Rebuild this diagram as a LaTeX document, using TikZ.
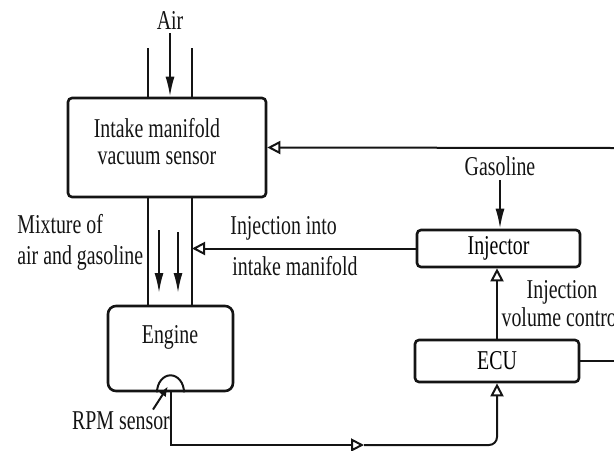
\documentclass[tikz,border=0pt]{standalone}
\usepackage{fontspec}
\setmainfont{Liberation Serif}[FakeStretch=0.73]
\usepackage{xcolor}
\usepackage{tikz}
\usetikzlibrary{arrows.meta,calc}
\definecolor{InkBlack}{HTML}{141414}
\tikzset{
  block/.style={
    draw=InkBlack,
    line width=1.3pt,
    rounded corners=2pt,
    align=center,
    inner sep=0pt,
    font=\fontsize{13.6}{13}\selectfont
  },
  engineblock/.style={block,rounded corners=4pt},
  lbl/.style={font=\fontsize{13.6}{14}\selectfont,text=InkBlack,inner sep=2pt},
  wall/.style={draw=InkBlack,line width=1pt},
  fillarrow/.style={-{Latex[length=10pt,width=4.5pt]},draw=InkBlack,line width=1pt},
  smallarrow/.style={-{Latex[length=5pt,width=4pt]},draw=InkBlack,line width=1pt},
  openarrow/.style={-{Triangle[open,length=6.5pt,width=6.5pt]},draw=InkBlack,line width=1pt},
  signal/.style={draw=InkBlack,line width=1pt}
}

\begin{document}
\begin{tikzpicture}[x=0.5pt,y=-0.5pt]
  \useasboundingbox (0,0) rectangle (614,450);
  \node[block,minimum width=99pt,minimum height=49.5pt] (intake) at (167,147.5) {};
  \node[lbl,align=center,font=\fontsize{13.6}{13.5}\selectfont] (intakelbl) at (157,142) {Intake manifold\\vacuum sensor};
  \node[engineblock,minimum width=62.5pt,minimum height=42.5pt] (engine) at (170.5,348.5) {};
  \node[lbl] (enginelbl) at (170,337) {Engine};
  \node[block,minimum width=81.5pt,minimum height=18.5pt] (injector) at (498.5,248.5) {Injector};
  \node[block,minimum width=82pt,minimum height=21pt] (ecu) at (497,361) {ECU};
  \node[lbl] (air) at (170,20) {Air};
  \node[lbl] (gasoline) at (500,166) {Gasoline};
  \node[lbl,anchor=west,align=left,font=\fontsize{13.6}{15.5}\selectfont] (mixture) at (13,242) {Mixture of\\air and gasoline};
  \node[lbl,anchor=west] (injinto) at (226,228) {Injection into};
  \node[lbl,anchor=west] (injmani) at (228,266) {intake manifold};
  \node[lbl,align=center] (volctrl) at (562,304) {Injection\\volume control};
  \node[lbl] (rpmlbl) at (121,421) {RPM sensor};
  \coordinate (pipeL) at (148,0);
  \coordinate (pipeR) at (192,0);
  \coordinate (feedin) at (614,148);
  \coordinate (ecuout) at (614,361);
  \coordinate (midtip) at (364,445);
  \draw[wall] (pipeL |- intake.north) -- ++(0,-49);
  \draw[wall] (pipeR |- intake.north) -- ++(0,-49);
  \draw[wall] (pipeL |- intake.south) -- (pipeL |- engine.north);
  \draw[wall] (pipeR |- intake.south) -- (pipeR |- engine.north);
  \draw[wall] ($(engine.south)+(-13.5,0)$) arc[start angle=180,end angle=360,x radius=13.5,y radius=17];
  \draw[fillarrow] (air.south) -- (air.south |- intake.north);
  \draw[fillarrow] (159,230) -- (159,293);
  \draw[fillarrow] (178,232) -- (178,293);
  \draw[fillarrow] (gasoline.south) -- (gasoline.south |- injector.north);
  \draw[openarrow] (injector.west) -- (pipeR |- injector.west);
  \draw[openarrow] (ecu.north) -- (ecu.north |- injector.south);
  \draw[openarrow] (feedin) -- (intake.east);
  \draw[signal] (ecu.east) -- (ecuout);
  \draw[openarrow] (engine.south) |- (midtip);
  \draw[openarrow,rounded corners=4pt] (midtip) -| (ecu.south);
  \draw[smallarrow] ([xshift=16pt,yshift=-1pt]rpmlbl.north) -- ([xshift=-1.25pt,yshift=3pt]engine.south);
\end{tikzpicture}
\end{document}
